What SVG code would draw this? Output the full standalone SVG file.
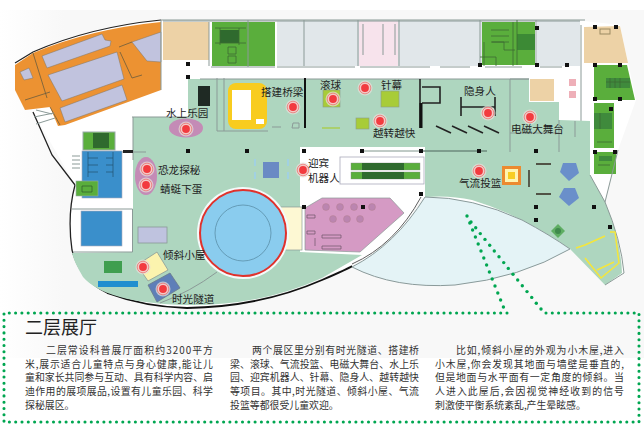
<svg xmlns="http://www.w3.org/2000/svg" width="644" height="429" viewBox="0 0 644 429">
<style>
.l{font-family:"Noto Sans CJK SC","Noto Sans",sans-serif;font-size:10.6px;fill:#222}
.b{font-family:"Noto Sans CJK SC","Noto Sans",sans-serif;font-size:9.9px;fill:#333}
.t{font-family:"Noto Sans CJK SC","Noto Sans",sans-serif;font-size:18px;fill:#222}
.w{fill:none;stroke:#8b9a97;stroke-width:1}
.k{fill:none;stroke:#222;stroke-width:1.6}
.d{fill:none;stroke:#3c6b34;stroke-width:.8}
.p{fill:#111}
.g{fill:none;stroke:#00a651;stroke-width:3.1;stroke-linecap:round}
.y{fill:none;stroke:#f5e63a;stroke-width:1.5}
</style>
<defs>
<linearGradient id="bg" x1="0" x2="1" y1="0" y2="0"><stop offset="0" stop-color="#fff"/><stop offset=".1" stop-color="#f8f8f8"/></linearGradient>
<g id="dot"><circle r="7.5" fill="#e6ded9" opacity=".7"/><circle r="5.8" fill="#f3c9c6" stroke="#ee6a68" stroke-width=".7"/><circle r="3.9" fill="#f23b3f"/></g>
<rect id="pl" x="-2" y="-2" width="4" height="4" class="p"/>
</defs>
<rect width="644" height="429" fill="#fff"/>
<rect x="0" y="10" width="644" height="348" fill="url(#bg)"/>

<g id="building-base">
<path d="M15,63 L33,52 Q90,27 161,21 L585,21 L620,25 L636,100 L618,150 L605,202 Q621,240 624,273 L605,285 L570,249 L422,198 L389,247 Q270,308 187,307 Q105,305 83,277 Q66,250 70,205 L75,185 L33,112 Z" fill="#fff"/>
<path d="M15,63 L33,52 Q90,27 161,20" fill="none" stroke="#222" stroke-width="1.2"/>
<path d="M161,20 L585,20" class="w" stroke-width="1.2"/>
<path d="M33,112 L52,155 L75,185 M75,185 Q67,215 72,250 Q80,280 107,293" fill="none" stroke="#222" stroke-width="1.3"/>
<path d="M107,293 Q145,307 187,308 Q260,307 322,280 Q350,268 352,266" fill="none" stroke="#111" stroke-width="1.8"/>
</g>

<g id="orange-wing">
<path d="M15,65 L33,53 Q90,29 161,22 L161,90 L65,125 L58,126 L50,107 L25,110 L15,90 Z" fill="#ec9232"/>
<path d="M42,56 L102,34 L105,40 L111,41 L110,46 L47,68 Z M48,75 L117,52 L124,79 L62,101 Z M60,108 L122,85 L127,100 L65,122 Z M132,42 L161,32 L161,62 L147,61 Z M20,72 L29,68 L33,78 L24,80 Z" fill="#c1c3de" stroke="#7d7566" stroke-width=".5"/>
<path d="M33,53 L47,98 M25,100 L50,92 M120,52 L132,78 L142,75 M119,47 L132,42 M50,107 L60,125" fill="none" stroke="#6a5c3e" stroke-width=".8"/>
<path d="M36,110 L52,114 M34,117 L54,113 M36,124 L55,118" class="w"/>
</g>

<g id="upper-rooms">
<rect x="163" y="22" width="46" height="38" fill="#edd2a6"/>
<rect x="212" y="22" width="63" height="44" fill="#5aae3c"/>
<rect x="277" y="21" width="205" height="45" fill="#e1e7ea"/>
<rect x="359" y="21" width="39" height="45" fill="#f7e3ec"/>
<rect x="482" y="22" width="53" height="43" fill="#5aae3c"/>
<rect x="537" y="21" width="43" height="45" fill="#e1e7ea"/>
<path d="M584,27 L620,26 L628,63 L584,63 Z" fill="#edd2a6"/>
<path d="M594,65 L627,65 L635,100 L594,100 Z" fill="#5aae3c"/>
<rect x="594" y="103" width="20" height="45" fill="#5aae3c"/>
<rect x="594" y="152" width="22" height="22" fill="#5aae3c"/>
<rect x="220" y="30" width="19" height="13" fill="#2f6a2e"/>
<rect x="517" y="34" width="18" height="16" fill="#3c8a35"/>
<rect x="594" y="113" width="18" height="16" fill="#3f8a3c"/>
<rect x="606" y="78" width="24" height="10" fill="#3f8a3c"/>
<rect x="599" y="156" width="13" height="5" fill="#3f8a3c"/>
<path d="M163,21 H580 M211,67 H275 M277,67 H355 M360,67 H430 M440,67 H470 M485,67 H522 M540,67 H562 M248,20 V67 M304,20 V66 M358,20 V66 M399,20 V66 M480,20 V66 M536,20 V66 M581,25 V160 M209,22 V66 M161,20 V90" class="w"/>
<path d="M363,24 V55 M383,24 V55 M395,24 V55" class="w"/>
<path d="M215,28 H246 M215,43 H246 M228,47 h8 v7 h-8 z M228,56 h8 v7 h-8 z M220,45 V28 M239,45 V28" class="d"/>
<path d="M491,30 H509 M491,36 H509 M491,42 H509 M492,42 H504 V50 H515 M484,42 V66 M513,22 V66 M517,20 V65 M480,57 H496 V66" class="d"/>
<path d="M606,82 H630 M610,78 V88 M615,78 V88 M620,78 V88 M600,113 V129 M597,142 H612 M598,165 H610" class="d"/>
<rect x="600" y="29" width="10" height="5" fill="none" stroke="#9b8a62"/>
</g>

<g id="floor">
<path d="M188,79 H529 V102 H559 V120 L590,121 V175 L605,202 Q621,240 622,273 L605,285 L570,249 Q522,215 472,200 Q450,195 425,197 V147 H300 V252 L362,255 L322,278 Q260,306 187,305 Q105,303 83,277 Q74,262 72,253 L133,252 V117 H188 Z" fill="#aed6bf"/>
<path d="M200,79 H529 M217,78 V131 M224,78 V131 M217,131 H268 M529,79 H510 V152 M510,133 H559 M559,120 V152 M575,121 V137 M272,127 H281 M293,123 h6 v5 h-7 z M132,117 H188 M133,117 V160 M122,152 H146" class="w"/>
<path d="M605,202 Q621,240 624,273 L605,285" class="w" stroke-width="1.2"/>
<path d="M590,175 L605,202 L618,150" class="w"/>
<rect x="123" y="150" width="10" height="3" fill="#222"/>
</g>

<g id="left-pools">
<rect x="73" y="209" width="60" height="43" fill="#fff"/>
<path d="M72,209 H132.500 V252 H73" class="w"/>
<rect x="83" y="132" width="32" height="18" fill="#5aae3c" stroke="#9aa"/>
<rect x="93" y="133" width="16" height="15" fill="#2f6a2e"/>
<rect x="82" y="151" width="40" height="47" fill="#3a8fcb" stroke="#aab" stroke-width=".6"/>
<path d="M88,152 V177 M88,158 H98 M88,165 H98 M88,172 H98 M113,152 V177 M106,158 H113 M106,165 H113 M106,172 H113" fill="none" stroke="#24506f" stroke-width=".7"/>
<path d="M72,156 H80 M72,160 H80 M72,164 H80 M72,168 H80" class="w"/>
<rect x="81" y="211" width="41" height="35" fill="#3a8fcb" stroke="#aab" stroke-width=".6"/>
<rect x="76" y="181" width="22" height="15" fill="#5aae3c" stroke="#9aa" stroke-width=".6"/>
<path d="M82,186 H92 V192 H82 Z" fill="none" stroke="#2f5a2c" stroke-width=".7"/>
</g>

<g id="walls">
<path d="M305,78 V128" stroke="#111" stroke-width="2" fill="none"/>
<path d="M420,79 V128" class="k"/>
<path d="M422,87 H440 V103 H422" class="k"/>
<path d="M421,103 V128" stroke="#111" stroke-width="3" fill="none"/>
<path d="M436,126 L451,133 M452,126 L467,133 M468,126 L483,133 M484,126 L499,133 M461,97 V116 M495,97 V116 M461,107 H495" class="k"/>
<path d="M362,151 H479 M479,151 H487" stroke="#6d8a7e" stroke-width="1.6" fill="none"/>
<path d="M362,151 H421" stroke="#eee" stroke-width="1" fill="none"/>
<path d="M536,164 H551 M529,170 V187 M536,194 H551" fill="none" stroke="#33291f" stroke-width="1.4"/>
</g>

<g id="exhibits">
<rect x="198" y="86" width="12" height="20" fill="#1f2a24"/>
<rect x="228" y="83" width="39" height="46" rx="8" fill="#f8cc1f"/>
<rect x="232" y="90" width="19" height="30" fill="#fff"/>
<rect x="256" y="119" width="8" height="5" fill="#fff"/>
<rect x="323" y="90" width="17" height="17" fill="#a8cc38" stroke="#8a9c8a" stroke-width=".6"/>
<rect x="381" y="91" width="18" height="16" fill="#a8cc38" stroke="#8a9c8a" stroke-width=".6"/>
<rect x="356" y="118" width="13" height="11" fill="#a8cc38" stroke="#8a9c8a" stroke-width=".6"/>
<path d="M322,128 H340" stroke="#a8cc38" stroke-width="1.2"/>
<rect x="530" y="79" width="24" height="22" fill="#edd2a6"/>
<rect x="569" y="79" width="7" height="7" fill="#eeafb8"/>
<rect x="569" y="91" width="7" height="7" fill="#eeafb8"/>
<ellipse cx="186" cy="128" rx="17" ry="9.500" fill="#c48bb6"/>
<ellipse cx="146" cy="176" rx="11" ry="19" fill="#c48bb6"/>
<rect x="263" y="162" width="16" height="16" fill="#6a8ac4"/>
<path d="M255,159 V166 M255,172 V179 M288,159 V166 M288,172 V179" stroke="#9fd0ea" stroke-width="1.6"/>
<rect x="138" y="227" width="29" height="16" fill="#bfc3df" stroke="#8b9a97" stroke-width=".8"/>
<path d="M137,265 L157,252 L168,270 L148,281 Z" fill="#fbf3ae" stroke="#8b9a97" stroke-width=".8"/>
<path d="M148,285 L170,273 L180,288 L157,302 Z" fill="#5e7fb8" stroke="#6b7a8a" stroke-width=".8"/>
<rect x="104" y="261" width="18" height="12" fill="#3f9e4f"/>
<rect x="98" y="281" width="40" height="6" fill="#1f8ecf"/>
<path d="M217,272 Q190,292 160,303" class="w"/>
<rect x="277" y="207" width="25" height="43" fill="#fdf8d3" stroke="#8b9a97" stroke-width=".7"/>
<circle cx="243" cy="233" r="46" fill="#f4fafa"/>
<circle cx="243" cy="233" r="43" fill="#8accee" stroke="#e0312c" stroke-width="2"/>
<circle cx="243" cy="233" r="28" fill="none" stroke="#5a8fa8" stroke-width=".8"/>
<path d="M305,208 L322,198 H390 L404,213 L360,252 L305,250 Z" fill="#d59ac4" stroke="#8b9a97" stroke-width=".7"/>
<g fill="#bb85b0" stroke="#a77" stroke-width=".3"><circle cx="326" cy="207" r="3.500"/><circle cx="340" cy="207" r="3.500"/><circle cx="354" cy="207" r="3.500"/><circle cx="372" cy="207" r="3.500"/><circle cx="333" cy="219" r="3.500"/><circle cx="347" cy="219" r="3.500"/><circle cx="360" cy="219" r="3.500"/></g>
<path d="M307,215 h8 v3 h-8 z M307,231 h8 v3 h-8 z M322,235 h19 v3 h-19 z M322,246 h19 v3 h-19 z M315,238 v8" fill="none" stroke="#6d5468" stroke-width=".7"/>
<g id="panel">
<rect x="340" y="157" width="84" height="27" fill="#fff" stroke="#aab" stroke-width=".8"/>
<rect x="351" y="163" width="69" height="7" fill="#5aae3c" stroke="#888" stroke-width=".4"/>
<rect x="351" y="172" width="69" height="7" fill="#5aae3c" stroke="#888" stroke-width=".4"/>
<rect x="362" y="163" width="42" height="7" fill="#2f6a2e"/>
<rect x="362" y="172" width="42" height="7" fill="#2f6a2e"/>
</g>
<rect x="502" y="166" width="19" height="19" fill="#ec8a2f"/>
<rect x="505" y="169" width="13" height="13" fill="#fff4b0"/>
<rect x="508" y="172" width="7" height="7" fill="#f8cd22"/>
<path d="M563,163 L576,163 L579,173 L569,181 L560,172 Z M564,188 L575,188 L579,198 L569,206 L559,197 Z" fill="#6a8fca"/>
<path d="M558,224 L565,231 L558,238 L551,231 Z" fill="#5fae63"/>
<circle cx="558" cy="231" r="3" fill="#3f8a4c"/>
<path d="M576,248 L585,245 L605,236 M610,232 H615 L619,263 L601,278 L585,258 M597,270 L614,262" class="y"/>
</g>

<g id="lens">
<path d="M425,197 Q472,197 522,220 Q550,235 570,249 Q520,278 455,285 Q395,289 352,267 Q395,245 425,197 Z" fill="#e4f3f6" stroke="#8a9a9a" stroke-width="1"/>
<path d="M421,197 Q395,245 352,264" fill="none" stroke="#333" stroke-width=".8"/>
</g>

<g id="pillars">
<use href="#pl" x="188" y="64"/><use href="#pl" x="188" y="77"/><use href="#pl" x="188" y="151"/><use href="#pl" x="247" y="151"/><use href="#pl" x="304" y="151"/><use href="#pl" x="362" y="151"/><use href="#pl" x="421" y="151"/><use href="#pl" x="479" y="151"/><use href="#pl" x="536" y="151"/><use href="#pl" x="537" y="28"/><use href="#pl" x="480" y="65"/><use href="#pl" x="537" y="65"/><use href="#pl" x="567" y="65"/><use href="#pl" x="595" y="27"/><use href="#pl" x="616" y="27"/><use href="#pl" x="595" y="65"/><use href="#pl" x="620" y="65"/><use href="#pl" x="595" y="99"/><use href="#pl" x="620" y="99"/><use href="#pl" x="611" y="109"/><use href="#pl" x="595" y="152"/><use href="#pl" x="615" y="152"/><use href="#pl" x="421" y="194"/><use href="#pl" x="363" y="207"/><use href="#pl" x="536" y="207"/><use href="#pl" x="594" y="207"/><use href="#pl" x="536" y="220"/><use href="#pl" x="610" y="227"/><use href="#pl" x="304" y="207"/>
</g>

<g id="markers">
<use href="#dot" x="293" y="107"/><use href="#dot" x="365" y="88"/><use href="#dot" x="333" y="99"/><use href="#dot" x="380" y="121"/><use href="#dot" x="488" y="113"/><use href="#dot" x="530" y="117"/><use href="#dot" x="479" y="171"/><use href="#dot" x="147" y="169"/><use href="#dot" x="146" y="185"/><use href="#dot" x="303" y="170"/><use href="#dot" x="143" y="267"/><use href="#dot" x="163" y="289"/><use href="#dot" x="186" y="129"/>
</g>

<g id="labels">
<text class="l" x="166" y="117">水上乐园</text>
<text class="l" x="261" y="96">搭建桥梁</text>
<text class="l" x="320" y="89">滚球</text>
<text class="l" x="381" y="89">针幕</text>
<text class="l" x="373" y="137">越转越快</text>
<text class="l" x="464" y="95">隐身人</text>
<text class="l" x="511" y="133">电磁大舞台</text>
<text class="l" x="459" y="187">气流投篮</text>
<text class="l" x="158" y="174">恐龙探秘</text>
<text class="l" x="160" y="193">蜻蜓下蛋</text>
<text class="l" x="163" y="259">倾斜小屋</text>
<text class="l" x="172" y="303">时光隧道</text>
<text class="l" x="308" y="167">迎宾</text>
<text class="l" x="308" y="182">机器人</text>
</g>

<g id="frame">
<g fill="#00a651">
<circle cx="467" cy="216" r="1.700"/><circle cx="469.800" cy="223" r="1.700"/><circle cx="472.600" cy="230" r="1.700"/><circle cx="475.400" cy="237" r="1.700"/><circle cx="478.200" cy="244" r="1.700"/><circle cx="481" cy="251" r="1.700"/><circle cx="483.800" cy="258" r="1.700"/><circle cx="486.600" cy="265" r="1.700"/><circle cx="489.400" cy="272" r="1.700"/><circle cx="492.200" cy="279" r="1.700"/><circle cx="495" cy="286" r="1.700"/><circle cx="497.800" cy="293" r="1.700"/><circle cx="500.600" cy="300" r="1.700"/><circle cx="503.400" cy="307" r="1.700"/>
<circle cx="471" cy="222" r="1.700"/><circle cx="475.700" cy="227.800" r="1.700"/><circle cx="480.300" cy="233.600" r="1.700"/><circle cx="485" cy="239.400" r="1.700"/><circle cx="489.700" cy="245.200" r="1.700"/><circle cx="494.300" cy="251" r="1.700"/><circle cx="499" cy="256.800" r="1.700"/><circle cx="503.700" cy="262.600" r="1.700"/><circle cx="508.300" cy="268.400" r="1.700"/><circle cx="513" cy="274.200" r="1.700"/><circle cx="517.700" cy="280" r="1.700"/><circle cx="522.300" cy="285.800" r="1.700"/><circle cx="527" cy="291.600" r="1.700"/><circle cx="531.700" cy="297.400" r="1.700"/><circle cx="536.300" cy="303.200" r="1.700"/><circle cx="541" cy="309" r="1.700"/>
</g>
<path d="M507,313 H4 V422 H639 V313 H544" class="g" stroke-dasharray="0 6.300"/>
</g>

<g id="copy">
<text class="t" x="25" y="334">二层展厅</text>
<text class="b" x="46" y="353.500" textLength="167" lengthAdjust="spacing">二层常设科普展厅面积约3200平方</text>
<text class="b" x="25" y="367.500" textLength="188" lengthAdjust="spacing">米,展示适合儿童特点与身心健康,能让儿</text>
<text class="b" x="25" y="381" textLength="188" lengthAdjust="spacing">童和家长共同参与互动、具有科学内容、启</text>
<text class="b" x="25" y="394.500" textLength="188" lengthAdjust="spacing">迪作用的展项展品,设置有儿童乐园、科学</text>
<text class="b" x="25" y="408.500">探秘展区。</text>
<text class="b" x="252" y="353.500" textLength="167" lengthAdjust="spacing">两个展区里分别有时光隧道、搭建桥</text>
<text class="b" x="230" y="367.500" textLength="189" lengthAdjust="spacing">梁、滚球、气流投篮、电磁大舞台、水上乐</text>
<text class="b" x="230" y="381" textLength="189" lengthAdjust="spacing">园、迎宾机器人、针幕、隐身人、越转越快</text>
<text class="b" x="230" y="394.500" textLength="189" lengthAdjust="spacing">等项目。其中,时光隧道、倾斜小屋、气流</text>
<text class="b" x="230" y="408.500">投篮等都很受儿童欢迎。</text>
<text class="b" x="456" y="353.500" textLength="168" lengthAdjust="spacing">比如,倾斜小屋的外观为小木屋,进入</text>
<text class="b" x="435" y="367.500" textLength="189" lengthAdjust="spacing">小木屋,你会发现其地面与墙壁是垂直的,</text>
<text class="b" x="435" y="381" textLength="189" lengthAdjust="spacing">但是地面与水平面有一定角度的倾斜。当</text>
<text class="b" x="435" y="394.500" textLength="189" lengthAdjust="spacing">人进入此屋后,会因视觉神经收到的信号</text>
<text class="b" x="435" y="408.500">刺激使平衡系统紊乱,产生晕眩感。</text>
</g>
</svg>
